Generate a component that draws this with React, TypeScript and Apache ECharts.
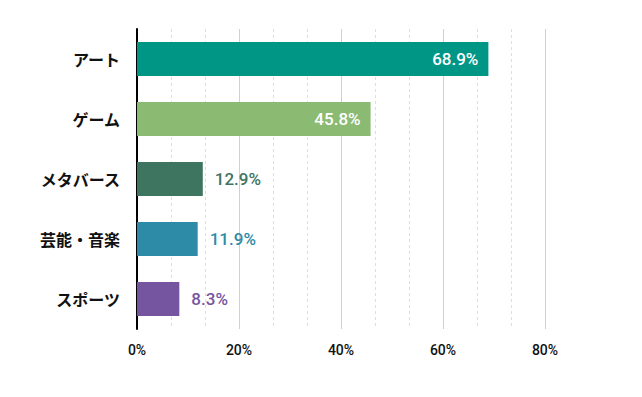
import React, { useEffect, useRef } from "react";
import * as echarts from "echarts";

const categories = ["アート", "ゲーム", "メタバース", "芸能・音楽", "スポーツ"];
const values = [68.9, 45.8, 12.9, 11.9, 8.3];
const colors = ["#009686", "#8bba73", "#3e7561", "#2e8ba7", "#7655a0"];
const insideLabel = [true, true, false, false, false];

export default function App() {
  const ref = useRef<HTMLDivElement>(null);
  useEffect(() => {
    document.body.style.margin = "0";
    if (!ref.current) return;
    const chart = echarts.init(ref.current, undefined, { renderer: "svg" });
    chart.setOption({
      animation: false,
      grid: { left: 137, right: 97, top: 29, bottom: 68, containLabel: false },
      xAxis: {
        type: "value",
        min: 0,
        max: 80,
        interval: 20,
        axisLine: { show: false },
        axisTick: { show: false },
        axisLabel: {
          formatter: "{value}%",
          color: "#111",
          fontWeight: 500,
          fontSize: 14,
          fontFamily: "Roboto, 'Noto Sans CJK JP', sans-serif",
          margin: 14,
        },
        splitLine: { show: true, lineStyle: { color: "#d0d0d0", width: 1 } },
        minorTick: { show: false, splitNumber: 3 },
        minorSplitLine: { show: true, lineStyle: { color: "#dedede", type: [3, 3], width: 1 } },
      },
      yAxis: {
        type: "category",
        inverse: true,
        data: categories,
        axisLine: { show: true, lineStyle: { color: "#000", width: 2 } },
        axisTick: { show: false },
        axisLabel: {
          color: "#111",
          fontWeight: "bold",
          fontSize: 16,
          fontFamily: "'Noto Sans CJK JP', sans-serif",
          margin: 17,
        },
        splitLine: { show: false },
      },
      series: [
        {
          type: "bar",
          barWidth: 34,
          data: values.map((v, i) => ({
            value: v,
            itemStyle: { color: colors[i] },
            label: {
              show: true,
              position: insideLabel[i] ? "insideRight" : "right",
              distance: insideLabel[i] ? 10 : 12,
              color: insideLabel[i] ? "#fff" : colors[i],
              formatter: "{c}%",
              fontSize: 17,
              fontWeight: 500,
              fontFamily: "Roboto, sans-serif",
            },
          })),
        },
      ],
    });
    return () => chart.dispose();
  }, []);
  return <div ref={ref} style={{ width: 642, height: 397 }} />;
}
